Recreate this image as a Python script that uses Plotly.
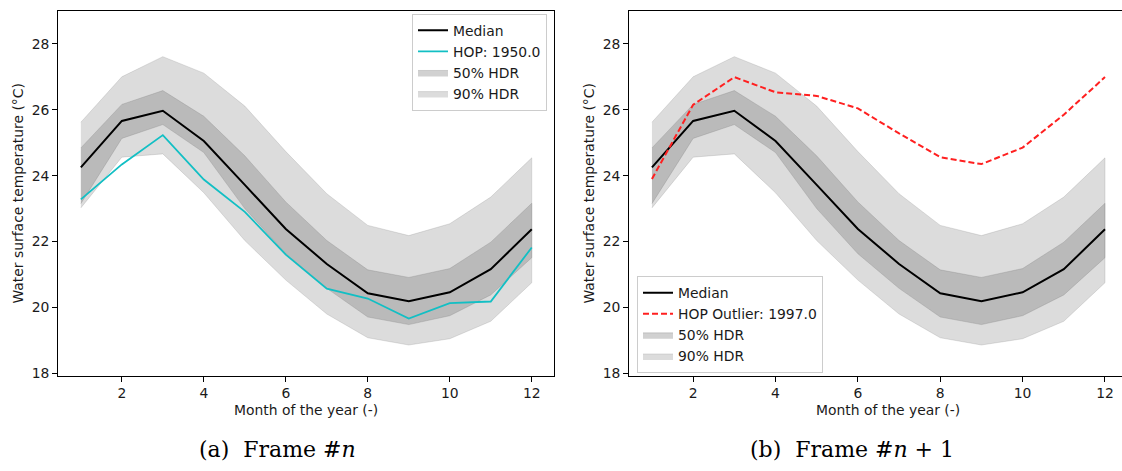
import plotly.graph_objects as go

months = [1, 2, 3, 4, 5, 6, 7, 8, 9, 10, 11, 12]
median = [24.25, 25.66, 25.97, 25.05, 23.72, 22.38, 21.32, 20.43, 20.19, 20.46, 21.16, 22.37]
hop_1950 = [23.28, 24.34, 25.23, 23.88, 22.9, 21.6, 20.57, 20.27, 19.66, 20.13, 20.18, 21.82]
hop_outlier_1997 = [23.9, 26.15, 26.99, 26.53, 26.42, 26.04, 25.28, 24.56, 24.35, 24.85, 25.85, 26.99]
hdr50_upper = [24.84, 26.16, 26.58, 25.80, 24.60, 23.20, 22.03, 21.14, 20.91, 21.18, 21.98, 23.16]
hdr50_lower = [23.15, 25.13, 25.55, 24.70, 23.00, 21.63, 20.58, 19.71, 19.48, 19.75, 20.38, 21.51]
hdr90_upper = [25.62, 27.00, 27.61, 27.11, 26.11, 24.73, 23.45, 22.49, 22.18, 22.54, 23.35, 24.54]
hdr90_lower = [23.02, 24.56, 24.66, 23.48, 22.03, 20.83, 19.80, 19.08, 18.86, 19.05, 19.58, 20.75]
x_ticks = [2, 4, 6, 8, 10, 12]
y_ticks = [18, 20, 22, 24, 26, 28]
x_title = "Month of the year (-)"
y_title = "Water surface temperature (°C)"
captions = ["(a)&nbsp;&nbsp;Frame #<i>n</i>", "(b)&nbsp;&nbsp;Frame #<i>n</i> + 1"]

W, H = 1122, 471
FONT = "DejaVu Sans, Verdana, sans-serif"
FS = 13.9
GRAY90 = "rgba(128,128,128,0.28)"
GRAY50 = "rgba(128,128,128,0.36)"

fig = go.Figure()

def band(upper, lower, name, color, xa, ya, leg, rank):
    xs = months + months[::-1]
    ys = upper + lower[::-1]
    fig.add_trace(go.Scatter(
        x=xs, y=ys, fill="toself", fillcolor=color, mode="lines",
        line=dict(width=0.8, color=color), name=name, xaxis=xa, yaxis=ya,
        legend=leg, legendrank=rank, hoverinfo="skip"))

for xa, ya, leg in [("x", "y", "legend"), ("x2", "y2", "legend2")]:
    band(hdr90_upper, hdr90_lower, "90% HDR", GRAY90, xa, ya, leg, 4)
    band(hdr50_upper, hdr50_lower, "50% HDR", GRAY50, xa, ya, leg, 3)

fig.add_trace(go.Scatter(x=months, y=hop_1950, mode="lines", name="HOP: 1950.0",
                         line=dict(color="#12bfc4", width=1.8), xaxis="x", yaxis="y",
                         legend="legend", legendrank=2))
fig.add_trace(go.Scatter(x=months, y=median, mode="lines", name="Median",
                         line=dict(color="black", width=2), xaxis="x", yaxis="y",
                         legend="legend", legendrank=1))
fig.add_trace(go.Scatter(x=months, y=median, mode="lines", name="Median",
                         line=dict(color="black", width=2), xaxis="x2", yaxis="y2",
                         legend="legend2", legendrank=1))
fig.add_trace(go.Scatter(x=months, y=hop_outlier_1997, mode="lines", name="HOP Outlier: 1997.0",
                         line=dict(color="#ff2020", width=2, dash="6px,3px"), xaxis="x2", yaxis="y2",
                         legend="legend2", legendrank=2))

ydom = [(H - 380.5) / H, (H - 11) / H]
axis_common = dict(showline=True, linecolor="black", linewidth=1.1, ticks="outside",
                   ticklen=5, tickwidth=1.1, tickcolor="black", showgrid=False, zeroline=False,
                   tickfont=dict(family=FONT, size=FS, color="#1a1a1a"))

fig.update_layout(
    width=W, height=H, margin=dict(l=0, r=0, t=0, b=0),
    paper_bgcolor="white", plot_bgcolor="white",
    font=dict(family=FONT, size=FS, color="#1a1a1a"),
    xaxis=dict(domain=[58.3 / W, 554.3 / W], range=[0.45, 12.55], tickvals=x_ticks,
               mirror=True, anchor="y", **axis_common),
    yaxis=dict(domain=ydom, range=[17.93, 29.0], tickvals=y_ticks, mirror=True,
               anchor="x", **axis_common),
    xaxis2=dict(domain=[629.3 / W, 1.0], range=[0.45, 12.413], tickvals=x_ticks,
                mirror=True, anchor="y2", **axis_common),
    yaxis2=dict(domain=ydom, range=[17.93, 29.0], tickvals=y_ticks, mirror=False,
                anchor="x2", **axis_common),
    legend=dict(x=547 / W, y=1 - 14 / H, xanchor="right", yanchor="top",
                bgcolor="rgba(255,255,255,0.8)", bordercolor="#cccccc", borderwidth=1,
                font=dict(family=FONT, size=FS, color="#1a1a1a"), tracegroupgap=0,
                traceorder="normal"),
    legend2=dict(x=637 / W, y=1 - 378 / H, xanchor="left", yanchor="bottom",
                 bgcolor="rgba(255,255,255,0.8)", bordercolor="#cccccc", borderwidth=1,
                 font=dict(family=FONT, size=FS, color="#1a1a1a"), tracegroupgap=0,
                 traceorder="normal"),
    showlegend=True,
)

annots = []
for cx, yl_x, cap_x, cap in [((58.3 + 554.3) / 2, 18, 277, captions[0]),
                             ((629.3 + 1146) / 2, 589, 852, captions[1])]:
    annots.append(dict(x=cx / W, y=1 - 415.5 / H, xref="paper", yref="paper", text=x_title,
                       showarrow=False, xanchor="center", yanchor="middle",
                       font=dict(family=FONT, size=FS, color="#1a1a1a")))
    annots.append(dict(x=yl_x / W, y=1 - 196 / H, xref="paper", yref="paper", text=y_title,
                       showarrow=False, xanchor="center", yanchor="middle", textangle=-90,
                       font=dict(family=FONT, size=FS, color="#1a1a1a")))
    annots.append(dict(x=cap_x / W, y=1 - 455 / H, xref="paper", yref="paper", text=cap,
                       showarrow=False, xanchor="center", yanchor="middle",
                       font=dict(family="DejaVu Serif, serif", size=22, color="black")))
fig.update_layout(annotations=annots)

fig.write_html("out.html", config={"displayModeBar": False})
